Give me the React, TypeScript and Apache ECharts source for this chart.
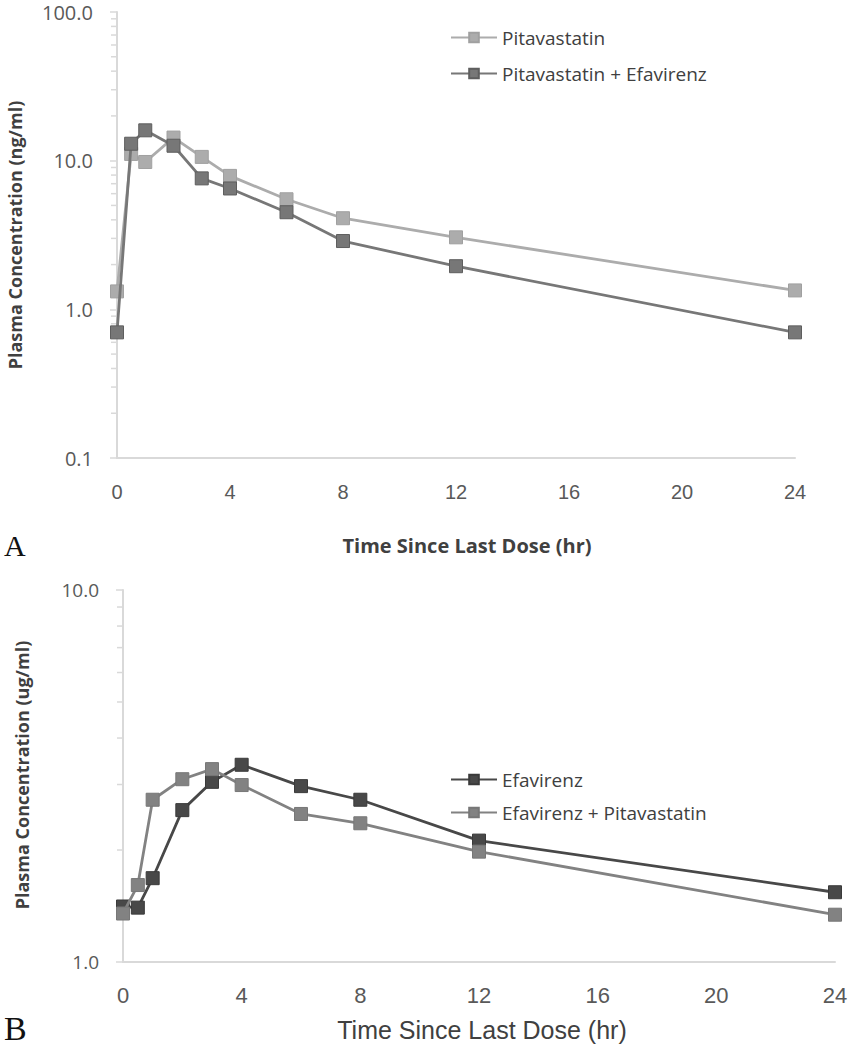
import React, { useEffect, useRef } from "react";
import * as echarts from "echarts";

// Panel A (ng/ml)
const timesA = [0, 0.5, 1, 2, 3, 4, 6, 8, 12, 24];
const pitavastatin = [1.32, 11.1, 9.8, 14.3, 10.6, 7.9, 5.5, 4.1, 3.05, 1.34];
const pitaEfavirenz = [0.7, 13.0, 16.0, 12.6, 7.6, 6.5, 4.5, 2.88, 1.95, 0.7];
const minorTicksA = [0.2, 0.3, 0.4, 0.5, 0.6, 0.7, 0.8, 0.9, 2, 3, 4, 5, 6, 7, 8, 9, 20, 30, 40, 50, 60, 70, 80, 90];

// Panel B (ug/ml)
const timesB = [0, 0.5, 1, 2, 3, 4, 6, 8, 12, 24];
const efavirenz = [1.41, 1.4, 1.68, 2.56, 3.05, 3.39, 2.97, 2.73, 2.12, 1.54];
const efavPitavastatin = [1.35, 1.61, 2.73, 3.1, 3.3, 2.99, 2.5, 2.36, 1.98, 1.34];
const minorTicksB = [2, 3, 4, 5, 6, 7, 8, 9];

const xTitle = "Time Since Last Dose (hr)";
const yTitleA = "Plasma Concentration (ng/ml)";
const yTitleB = "Plasma Concentration (ug/ml)";

const AXIS_GRAY = "#d9d9d9";
const LABEL_GRAY = "#595959";

function pairs(xs: number[], ys: number[]) {
  return xs.map((x, i) => [x, ys[i]]);
}

function minorTickSeries(ticks: number[], gridIdx: number) {
  return {
    type: "custom",
    xAxisIndex: gridIdx,
    yAxisIndex: gridIdx,
    clip: false,
    silent: true,
    data: ticks.map((v) => [0, v]),
    renderItem: (params: any, api: any) => {
      const p = api.coord([api.value(0), api.value(1)]);
      return {
        type: "line",
        shape: { x1: p[0] - 6, y1: p[1], x2: p[0], y2: p[1] },
        style: { stroke: AXIS_GRAY, lineWidth: 1.5 },
      };
    },
  };
}

export default function App() {
  const ref = useRef<HTMLDivElement>(null);
  useEffect(() => {
    if (!ref.current) return;
    const chart = echarts.init(ref.current, null, { renderer: "svg" });
    const lineSeries = (name: string, data: number[][], idx: number, color: string, border: string, z: number) => ({
      type: "line",
      name,
      xAxisIndex: idx,
      yAxisIndex: idx,
      data,
      symbol: "rect",
      symbolSize: 13,
      z,
      lineStyle: { color, width: 2.8 },
      itemStyle: { color, borderColor: border, borderWidth: 1 },
    });
    const xAxisBase = (idx: number, fontSize: number, margin: number) => ({
      type: "value",
      gridIndex: idx,
      min: 0,
      max: 24,
      interval: 4,
      axisLine: { show: true, lineStyle: { color: AXIS_GRAY, width: 2 } },
      axisTick: { show: false },
      splitLine: { show: false },
      axisLabel: {
        color: LABEL_GRAY,
        fontSize,
        margin,
        fontFamily: "'Liberation Sans Narrow', 'Liberation Sans', sans-serif",
      },
    });
    const yAxisBase = (idx: number, min: number, max: number, fontSize: number) => ({
      type: "log",
      logBase: 10,
      gridIndex: idx,
      min,
      max,
      axisLine: { show: true, lineStyle: { color: AXIS_GRAY, width: 2 } },
      axisTick: { show: true, inside: false, length: 7, lineStyle: { color: AXIS_GRAY, width: 1.5 } },
      splitLine: { show: false },
      axisLabel: {
        color: LABEL_GRAY,
        fontSize,
        margin: 24,
        fontFamily: "'Open Sans', sans-serif",
        formatter: (v: number) => Number(v).toFixed(1),
      },
    });
    const option: any = {
      animation: false,
      backgroundColor: "#ffffff",
      grid: [
        { left: 117, top: 12, width: 678, height: 446 },
        { left: 123, top: 590, width: 712, height: 372 },
      ],
      xAxis: [xAxisBase(0, 20, 24), xAxisBase(1, 22, 22)],
      yAxis: [yAxisBase(0, 0.1, 100, 20), yAxisBase(1, 1, 10, 19)],
      legend: [
        {
          data: ["Pitavastatin", "Pitavastatin + Efavirenz"],
          orient: "vertical",
          left: 445,
          top: 23,
          itemWidth: 46,
          itemHeight: 12,
          itemGap: 17,
          textStyle: { color: "#404040", fontSize: 19, fontFamily: "'Open Sans', sans-serif" },
        },
        {
          data: ["Efavirenz", "Efavirenz + Pitavastatin"],
          orient: "vertical",
          left: 445,
          top: 765,
          itemWidth: 46,
          itemHeight: 12,
          itemGap: 14,
          textStyle: { color: "#404040", fontSize: 19, fontFamily: "'Open Sans', sans-serif" },
        },
      ],
      series: [
        minorTickSeries(minorTicksA, 0),
        minorTickSeries(minorTicksB, 1),
        lineSeries("Pitavastatin", pairs(timesA, pitavastatin), 0, "#acacac", "#a0a0a0", 3),
        lineSeries("Pitavastatin + Efavirenz", pairs(timesA, pitaEfavirenz), 0, "#777777", "#5e5e5e", 4),
        lineSeries("Efavirenz", pairs(timesB, efavirenz), 1, "#484848", "#3a3a3a", 3),
        lineSeries("Efavirenz + Pitavastatin", pairs(timesB, efavPitavastatin), 1, "#828282", "#777777", 4),
      ],
      graphic: [
        {
          type: "text",
          x: 15,
          y: 235,
          rotation: Math.PI / 2,
          style: {
            text: yTitleA,
            fill: "#404040",
            font: "bold 18px 'Open Sans', sans-serif",
            align: "center",
            verticalAlign: "middle",
          },
        },
        {
          type: "text",
          x: 22,
          y: 775,
          rotation: Math.PI / 2,
          style: {
            text: yTitleB,
            fill: "#404040",
            font: "bold 18px 'Open Sans', sans-serif",
            align: "center",
            verticalAlign: "middle",
          },
        },
        {
          type: "text",
          x: 467,
          y: 545,
          style: {
            text: xTitle,
            fill: "#404040",
            font: "bold 20px 'Open Sans', sans-serif",
            align: "center",
            verticalAlign: "middle",
          },
        },
        {
          type: "text",
          x: 482,
          y: 1030,
          style: {
            text: xTitle,
            fill: "#404040",
            font: "25px 'Liberation Sans Narrow', 'Liberation Sans', sans-serif",
            align: "center",
            verticalAlign: "middle",
          },
        },
        {
          type: "text",
          x: 4,
          y: 545,
          style: {
            text: "A",
            fill: "#111111",
            font: "30px 'Liberation Serif', 'DejaVu Serif', serif",
            verticalAlign: "middle",
          },
        },
        {
          type: "text",
          x: 4,
          y: 1028,
          style: {
            text: "B",
            fill: "#111111",
            font: "34px 'Liberation Serif', 'DejaVu Serif', serif",
            verticalAlign: "middle",
          },
        },
      ],
    };
    chart.setOption(option);
    return () => chart.dispose();
  }, []);
  return (
    <div
      ref={ref}
      style={{ position: "absolute", left: 0, top: 0, width: 851, height: 1050, background: "#fff" }}
    />
  );
}
